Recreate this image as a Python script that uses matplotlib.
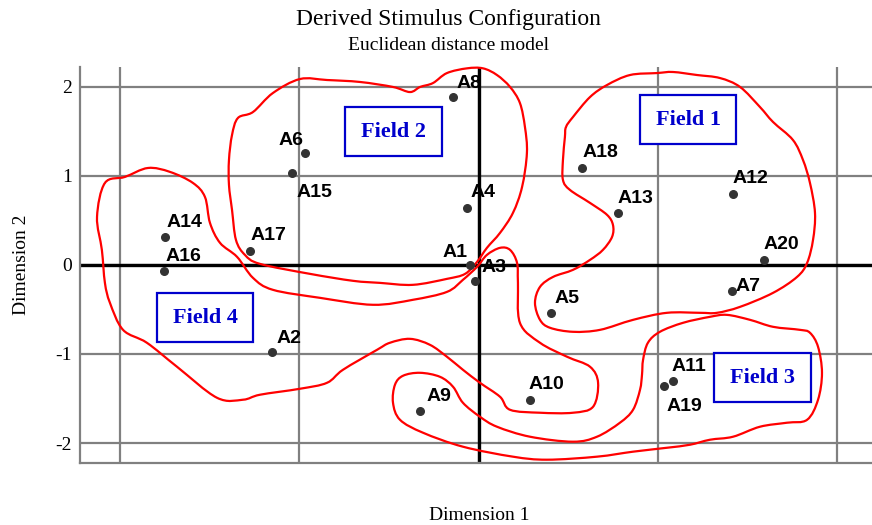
import numpy as np
import matplotlib
matplotlib.use("Agg")
import matplotlib.pyplot as plt
from matplotlib.patches import Rectangle, PathPatch
from matplotlib.path import Path

# stimulus coordinates (dimension 1, dimension 2)
labels = ["A1", "A2", "A3", "A4", "A5", "A6", "A7", "A8", "A9", "A10",
          "A11", "A12", "A13", "A14", "A15", "A16", "A17", "A18", "A19", "A20"]
dim1 = [-0.048, -1.153, -0.022, -0.067, 0.403, -0.967, 1.412, -0.145, -0.326, 0.286,
        1.082, 1.417, 0.777, -1.748, -1.040, -1.754, -1.274, 0.578, 1.032, 1.590]
dim2 = [0.000, -0.979, -0.176, 0.640, -0.538, 1.252, -0.295, 1.887, -1.644, -1.521,
        -1.304, 0.800, 0.579, 0.311, 1.028, -0.067, 0.157, 1.090, -1.357, 0.056]

# label offsets in pixels (dx, dy) from each point
label_off = {"A1": (-28, 8), "A2": (5, 9), "A3": (7, 9), "A4": (4, 11), "A5": (4, 10),
             "A6": (-27, 8), "A7": (4, 0), "A8": (4, 9), "A9": (6, 10), "A10": (-1, 11),
             "A11": (-1, 10), "A12": (0, 11), "A13": (0, 10), "A14": (1, 10), "A15": (4, -24),
             "A16": (1, 10), "A17": (0, 11), "A18": (0, 11), "A19": (3, -25), "A20": (0, 11)}

fields = ["Field 1", "Field 2", "Field 3", "Field 4"]
field_x = [1.168, -0.473, 1.581, -1.527]
field_y = [1.626, 1.491, -1.267, -0.594]

# hand drawn field outlines (closed loops)
field1_x = [0.487, 0.526, 0.621, 0.716, 0.844, 0.995, 1.084, 1.218, 1.346, 1.458, 1.569, 1.642,
            1.753, 1.809, 1.848, 1.876, 1.865, 1.832, 1.776, 1.642, 1.458, 1.329, 1.235, 1.050,
            0.861, 0.677, 0.526, 0.398, 0.342, 0.314, 0.342, 0.415, 0.526, 0.621, 0.693, 0.744,
            0.749, 0.716, 0.621, 0.509, 0.470, 0.470, 0.481]
field1_y = [1.547, 1.659, 1.883, 2.018, 2.130, 2.152, 2.164, 2.130, 2.096, 1.996, 1.771, 1.603,
            1.401, 1.177, 0.919, 0.583, 0.280, 0.022, -0.135, -0.314, -0.471, -0.538, -0.538, -0.538,
            -0.617, -0.729, -0.751, -0.706, -0.617, -0.426, -0.247, -0.135, -0.056, 0.056, 0.168, 0.314,
            0.448, 0.561, 0.695, 0.841, 0.953, 1.177, 1.435]

field2_x = [-0.009, -0.076, -0.177, -0.367, -0.551, -0.701, -0.941, -1.220, -1.304, -1.354,
            -1.376, -1.393, -1.393, -1.376, -1.343, -1.259, -1.148, -0.997, -0.846, -0.662,
            -0.478, -0.383, -0.327, -0.255, -0.177, -0.065, 0.024, 0.102, 0.175, 0.230,
            0.258, 0.269, 0.242, 0.191, 0.119, 0.046]
field2_y = [0.034, -0.101, -0.157, -0.224, -0.202, -0.179, -0.101, 0.011, 0.112, 0.280,
            0.617, 0.897, 1.177, 1.457, 1.648, 1.715, 1.928, 2.085, 2.074, 2.052,
            1.996, 1.939, 1.996, 2.040, 2.152, 2.205, 2.205, 2.130, 1.996, 1.816,
            1.547, 1.256, 0.874, 0.583, 0.359, 0.191]

field3_x = [0.900, 0.911, 0.917, 0.944, 1.011, 1.140, 1.290, 1.385, 1.514, 1.642, 1.792, 1.848,
            1.893, 1.915, 1.893, 1.832, 1.720, 1.569, 1.419, 1.290, 1.179, 1.050, 0.861, 0.660,
            0.381, 0.191, -0.088, -0.311, -0.439, -0.478, -0.467, -0.422, -0.327, -0.216, -0.143,
            -0.088, 0.007, 0.102, 0.286, 0.526, 0.660, 0.788, 0.861]
field3_y = [-1.401, -1.233, -1.065, -0.874, -0.751, -0.650, -0.583, -0.561, -0.617, -0.695, -0.729, -0.762,
            -0.919, -1.211, -1.513, -1.738, -1.771, -1.816, -1.928, -1.962, -2.018, -2.052, -2.096, -2.152,
            -2.186, -2.152, -2.040, -1.883, -1.738, -1.547, -1.345, -1.244, -1.211, -1.256, -1.368,
            -1.547, -1.704, -1.816, -1.928, -1.984, -1.928, -1.771, -1.626]

field4_x = [-2.085, -1.973, -1.845, -1.722, -1.594, -1.527, -1.499, -1.443, -1.348, -1.259, -1.148,
            -0.885, -0.590, -0.367, -0.177, -0.088, -0.009, 0.046, 0.119, 0.175, 0.214, 0.219,
            0.230, 0.342, 0.493, 0.621, 0.666, 0.638, 0.526, 0.342, 0.175, 0.119, 0.007, -0.088,
            -0.177, -0.272, -0.383, -0.495, -0.567, -0.757, -0.846, -0.997, -1.220, -1.315, -1.460,
            -1.683, -1.851, -1.984, -2.057, -2.085, -2.102, -2.129]
field4_y = [0.919, 0.987, 1.087, 1.043, 0.919, 0.762, 0.471, 0.247, 0.090, -0.146, -0.280,
            -0.370, -0.448, -0.392, -0.303, -0.168, -0.022, 0.112, 0.191, 0.168, 0.022, -0.202,
            -0.650, -0.874, -1.031, -1.143, -1.323, -1.592, -1.659, -1.659, -1.626, -1.480, -1.323, -1.177,
            -1.031, -0.897, -0.830, -0.874, -0.953, -1.177, -1.323, -1.390, -1.457, -1.513, -1.491,
            -1.143, -0.874, -0.729, -0.426, -0.202, 0.168, 0.538]


def smooth_loop(xs, ys):
    # closed Catmull-Rom curve through the traced points, as cubic Bezier path
    p = np.column_stack([xs, ys])
    n = len(p)
    verts = [p[0]]
    codes = [Path.MOVETO]
    for i in range(n):
        p0, p1, p2, p3 = p[i - 1], p[i], p[(i + 1) % n], p[(i + 2) % n]
        verts += [p1 + (p2 - p0) / 6, p2 - (p3 - p1) / 6, p2]
        codes += [Path.CURVE4] * 3
    return Path(verts, codes)


serif = "Liberation Serif"
sans = "Liberation Sans"

fig = plt.figure(figsize=(8.72, 5.25), dpi=100)
ax = fig.add_axes([80 / 872, 62 / 525, 1 - 80 / 872, (463 - 67) / 525])
ax.set_xlim(-2.224, 2.194)
ax.set_ylim(-2.223, 2.22)

ax.set_xticks([-2, -1, 0, 1, 2])
ax.set_yticks([-2, -1, 0, 1, 2])
ax.set_xticklabels([])
ax.set_yticklabels(["-2", "-1", "0", "1", "2"], fontfamily=serif, fontsize=14)
ax.tick_params(length=0, pad=6)
ax.grid(True, color="#808080", lw=1.6, zorder=0)
ax.set_axisbelow(True)
for s in ["top", "right"]:
    ax.spines[s].set_visible(False)
for s in ["left", "bottom"]:
    ax.spines[s].set_color("#808080")
    ax.spines[s].set_linewidth(1.6)

ax.axhline(0, color="black", lw=2.4, zorder=1)
ax.axvline(0, color="black", lw=2.4, zorder=1)

for fx, fy in [(field1_x, field1_y), (field2_x, field2_y), (field3_x, field3_y), (field4_x, field4_y)]:
    ax.add_patch(PathPatch(smooth_loop(fx, fy), fill=False, edgecolor="red", lw=1.6,
                           zorder=3, clip_on=False))

ax.scatter(dim1, dim2, s=30, color="#333333", zorder=4)
for lab, x, y in zip(labels, dim1, dim2):
    ax.annotate(lab, (x, y), xytext=label_off[lab], textcoords="offset pixels",
                ha="left", va="baseline", fontfamily=sans, fontweight="bold",
                fontsize=14, color="black", zorder=5)

for name, x, y in zip(fields, field_x, field_y):
    ax.add_patch(Rectangle((x - 0.27, y - 0.275), 0.54, 0.55, fill=True, facecolor="white",
                           edgecolor="#0000cc", lw=1.6, zorder=2))
    ax.text(x, y, name, ha="center", va="center", fontfamily=serif, fontweight="bold",
            fontsize=16, color="#0000cc", zorder=6)

fig.text(448 / 872, 1 - 20 / 525, "Derived Stimulus Configuration", ha="center", va="center",
         fontfamily=serif, fontsize=17)
fig.text(448 / 872, 1 - 46 / 525, "Euclidean distance model", ha="center", va="center",
         fontfamily=serif, fontsize=14)
fig.text(479 / 872, 1 - 515 / 525, "Dimension 1", ha="center", va="center",
         fontfamily=serif, fontsize=14)
fig.text(22 / 872, 1 - 265 / 525, "Dimension 2", ha="center", va="center", rotation=90,
         fontfamily=serif, fontsize=14)

fig.savefig("out.png", dpi=100)
